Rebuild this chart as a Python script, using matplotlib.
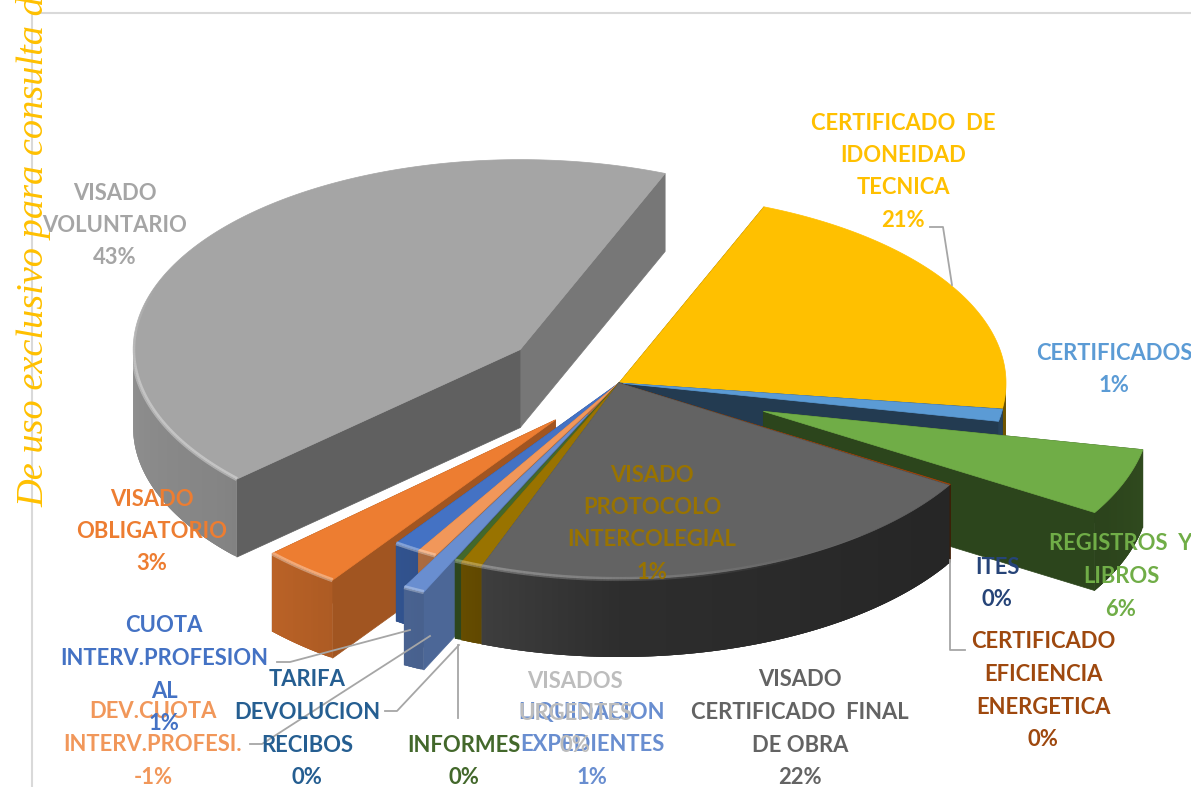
"""Exploded 3-D style pie of the visado categories, drawn as flat polygons in pixel space."""
import matplotlib
matplotlib.use("Agg")
import matplotlib.pyplot as plt
import numpy as np
from matplotlib.colors import to_rgb

W, H = 1191, 787

# clockwise from the first slice
categories = ["CERTIFICADO  DE\nIDONEIDAD\nTECNICA", "CERTIFICADOS", "ITES", "REGISTROS  Y\nLIBROS",
              "CERTIFICADO\nEFICIENCIA\nENERGETICA", "VISADO\nCERTIFICADO  FINAL\nDE OBRA",
              "VISADO\nPROTOCOLO\nINTERCOLEGIAL", "INFORMES", "LIQUIDACION\nEXPEDIENTES",
              "VISADOS\nURGENTES", "TARIFA\nDEVOLUCION\nRECIBOS", "DEV.CUOTA\nINTERV.PROFESI.",
              "CUOTA\nINTERV.PROFESION\nAL", "VISADO\nOBLIGATORIO", "VISADO\nVOLUNTARIO"]
values = [21.0, 1.0, 0.0, 5.5, 0.1, 22.0, 0.9, 0.3, 0.9, 0.0, 0.0, -0.8, 1.1, 3.3, 43.0]
explode = [0, 0, 0, 0.4, 0, 0, 0, 0, 0.18, 0, 0, 0, 0, 0.25, 0.31]
colors = ["#FFC000", "#5B9BD5", "#264478", "#70AD47", "#9E480E", "#636363", "#997300", "#43682B",
          "#698ED0", "#A5A5A5", "#255E91", "#F1975A", "#4472C4", "#ED7D31", "#A5A5A5"]
label_colors = list(colors)
label_colors[9] = "#BDBDBD"
# label centre x, first line y
label_xy = [(903, 123), (1114, 353), (997, 567), (1121, 544), (1043, 642), (800, 680), (652, 475),
            (464, 745), (592, 712), (575, 681), (307, 680), (153, 712), (164, 626), (152, 499), (115, 193)]
LINE_STEP = 32.5

# painter's order, back to front
draw_order = [14, 0, 1, 3, 4, 13, 12, 11, 8, 7, 6, 5]

leaders = [([277, 290, 410], [662, 662, 630]),
           ([250, 262, 430], [744, 744, 636]),
           ([385, 397, 459], [711, 711, 645]),
           ([458, 458], [718, 645]),
           ([965, 950, 950], [650, 650, 560]),
           ([930, 943, 952], [227, 227, 285])]

CX, CY, RX, DEPTH = 619, 383, 387, 78
RY_BACK, RY_FRONT = 190, 196
START = 22.0


def shade(color, f):
    return tuple(np.array(to_rgb(color)) * f)


def rim_factor(t):
    return np.interp(t, [90, 125, 180, 200, 205, 230, 270], [.45, .38, .46, .62, .68, .8, .87])


def wall_factor(t):
    return np.interp(t, [100, 125, 200, 215, 227, 382], [.38, .4, .75, .68, .58, .72])


def ell(t, ry):
    r = np.radians(t)
    return RX * np.sin(r), -ry * np.cos(r)


def draw_slice(ax, t0, t1, k, color):
    # slices pointing away from us are a little flatter
    tm = (t0 + t1) / 2
    ry = RY_FRONT if 90 < tm < 270 else RY_BACK
    mx, my = ell(tm, ry)
    ax0, ay0 = CX + k * mx, CY + k * my
    ts = np.arange(t0, t1 + 0.5, 0.5)
    ts[-1] = t1
    dx, dy = ell(ts, ry)
    xs, ys = ax0 + dx, ay0 + dy

    # radial walls, the upper one first
    walls = [(t0, xs[0], ys[0]), (t1, xs[-1], ys[-1])]
    for t, x, y in sorted(walls, key=lambda w: w[2]):
        c = shade(color, wall_factor(t))
        ax.fill([ax0, x, x, ax0], [ay0, y, y + DEPTH, ay0 + DEPTH], color=c, lw=0.5)
    # outer rim, only the part facing us; strips overlap so no seams show
    for i in range(len(ts) - 1):
        tc = (ts[i] + ts[i + 1]) / 2
        if 88 < tc < 272:
            j = min(i + 3, len(ts) - 1)
            c = shade(color, rim_factor(tc))
            ax.fill([xs[i], xs[j], xs[j], xs[i]],
                    [ys[i], ys[j], ys[j] + DEPTH, ys[i] + DEPTH], color=c, lw=0)
    # top face
    ax.fill(np.r_[ax0, xs], np.r_[ay0, ys], color=color, lw=0.5)
    # light bevel along the front edge
    for i in range(len(ts) - 1):
        tc = (ts[i] + ts[i + 1]) / 2
        a = np.interp(tc, [150, 215, 260, 290], [0, .35, .35, 0])
        if a > 0:
            ax.plot(xs[i:i + 2], ys[i:i + 2], color="white", alpha=a, lw=3, solid_capstyle="butt")


fig = plt.figure(figsize=(W / 100, H / 100), dpi=100)
ax = fig.add_axes([0, 0, 1, 1])
ax.set_xlim(0, W)
ax.set_ylim(H, 0)
ax.axis("off")

# chart frame
ax.plot([32, W], [13, 13], color="#D9D9D9", lw=1.5)
ax.plot([32, 32], [13, H], color="#D9D9D9", lw=1.5)

sizes = np.abs(values)
edges = START + 360 * np.r_[0, np.cumsum(sizes)] / sizes.sum()
for i in draw_order:
    draw_slice(ax, edges[i], edges[i + 1], explode[i], colors[i])

for xs, ys in leaders:
    ax.plot(xs, ys, color="#A6A6A6", lw=1.3)

for name, v, (x, y), c in zip(categories, values, label_xy, label_colors):
    lines = name.split("\n") + [f"{round(v):d}%"]
    for n, line in enumerate(lines):
        ax.text(x, y + n * LINE_STEP, line, color=c, ha="center", va="center",
                fontsize=15.8, fontweight="bold", family="Lato")

# watermark running up the left edge
ax.text(43, 507, "De uso exclusivo para consulta de", rotation=90, color="#FFC000", ha="left", va="baseline",
        fontsize=27.6, style="italic", family="Liberation Serif", rotation_mode="anchor")

fig.savefig("out.png", dpi=100)
